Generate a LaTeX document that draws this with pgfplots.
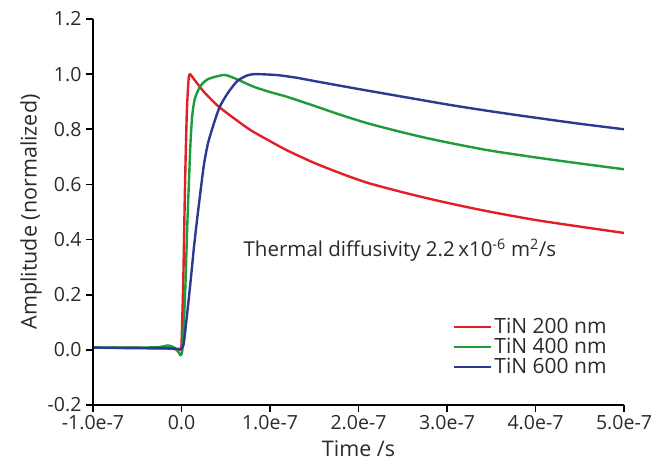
\documentclass[border=0pt]{standalone}
\usepackage{pgfplots}
\pgfplotsset{compat=1.18}
\usepackage{fontspec}
\setmainfont{Open Sans}
\definecolor{cred}{HTML}{E41E26}
\definecolor{cgreen}{HTML}{1E9B3A}
\definecolor{cblue}{HTML}{2B3990}
\definecolor{txt}{HTML}{2A2A2A}
\begin{document}
\begin{tikzpicture}
\begin{axis}[
  scale only axis, width=531pt, height=386pt,
  xmin=-1, xmax=5, ymin=-0.2, ymax=1.2,
  axis line style={draw=none},
  xtick pos=bottom, ytick pos=left,
  xtick={-1,0,1,2,3,4,5},
  xticklabels={-1.0e-7,0.0,1.0e-7,2.0e-7,3.0e-7,4.0e-7,5.0e-7},
  ytick={-0.2,0,0.2,0.4,0.6,0.8,1.0,1.2},
  yticklabel style={/pgf/number format/fixed, /pgf/number format/fixed zerofill, /pgf/number format/precision=1, xshift=-8pt},
  /pgf/number format/assume math mode=true,
  major tick length=0pt,
  ticklabel style={font=\fontsize{19.5}{22}\selectfont, text=txt},
  xticklabel style={yshift=-7pt},
  xlabel={Time /s}, ylabel={Amplitude (normalized)},
  label style={font=\fontsize{21.5}{24}\selectfont, text=txt},
  xlabel style={yshift=-4pt},
  ylabel style={yshift=-1pt},
  legend style={draw=none, fill=none, at={(0.672,0.235)}, anchor=north west,
    font=\fontsize{21}{23}\selectfont, text=txt, row sep=-1pt},
  legend cell align=left,
  legend image code/.code={\draw[#1, line width=2pt] (0pt,0pt) -- (32pt,0pt); \path (0pt,0pt) -- (37pt,0pt);},
  every axis plot/.append style={line width=2.4pt, line join=round, smooth, tension=0.4},
  clip=false,
  extra description/.code={
    \draw[black, line width=1.6pt] (axis description cs:0,1) -- (axis description cs:0,0) -- (axis description cs:1,0);
    \foreach \f in {0,0.16667,0.33333,0.5,0.66667,0.83333,1} {\draw[black, line width=1.6pt] (axis description cs:\f,0) -- ++(0pt,-7pt);}
    \foreach \f in {0,0.142857,0.285714,0.428571,0.571429,0.714286,0.857143,1} {\draw[black, line width=1.6pt] (axis description cs:0,\f) -- ++(-7pt,0pt);}
  },
]
\addplot[cred] coordinates {(-1.0,0.008) (-0.5,0.006) (-0.2,0.005) (-0.1,0.004) (-0.04,0.0) (-0.01,0.0) (0.0,0.02) (0.02,0.25) (0.04,0.6) (0.06,0.86) (0.08,0.98) (0.095,1.0) (0.15,0.978) (0.25,0.937) (0.4,0.888) (0.55,0.85) (0.78,0.797) (1.0,0.757) (1.19,0.724) (1.5,0.678) (1.8,0.640) (2.1,0.606) (2.47,0.574) (2.8,0.548) (3.15,0.523) (3.5,0.50) (4.0,0.471) (4.5,0.447) (5.0,0.424)};
\addlegendentry{TiN 200 nm}
\addplot[cgreen] coordinates {(-1.0,0.008) (-0.5,0.008) (-0.25,0.01) (-0.15,0.016) (-0.08,0.008) (-0.03,-0.01) (-0.01,-0.02) (0.01,0.0) (0.03,0.12) (0.045,0.24) (0.065,0.45) (0.083,0.60) (0.1,0.74) (0.12,0.845) (0.15,0.91) (0.21,0.955) (0.3,0.982) (0.48,0.997) (0.6,0.985) (0.81,0.955) (1.0,0.935) (1.19,0.918) (1.5,0.885) (1.8,0.852) (2.1,0.822) (2.47,0.791) (2.8,0.766) (3.15,0.743) (3.5,0.722) (4.0,0.698) (4.5,0.676) (5.0,0.655)};
\addlegendentry{TiN 400 nm}
\addplot[cblue] coordinates {(-1.0,0.008) (-0.5,0.007) (-0.2,0.006) (-0.05,0.004) (0.0,0.004) (0.026,0.024) (0.06,0.12) (0.1,0.24) (0.14,0.37) (0.18,0.483) (0.25,0.664) (0.3,0.75) (0.365,0.82) (0.43,0.88) (0.52,0.93) (0.63,0.975) (0.74,0.995) (0.82,1.0) (0.95,0.999) (1.1,0.996) (1.3,0.987) (1.5,0.975) (2.0,0.946) (2.5,0.918) (3.04,0.888) (3.5,0.865) (4.0,0.842) (4.5,0.82) (5.0,0.80)};
\addlegendentry{TiN 600 nm}
\node[anchor=west, font=\fontsize{20.5}{22}\selectfont, text=txt, inner sep=0pt] at (axis cs:0.70,0.362) {Thermal diffusivity 2.2\,x10\textsuperscript{-6} m\textsuperscript{2}/s};
\end{axis}
\pgfresetboundingbox
\path (current axis.south west) ++(-93pt,-60pt) coordinate (bl);
\path (current axis.north east) ++(32pt,19pt) coordinate (tr);
\path (bl) rectangle (tr);
\end{tikzpicture}
\end{document}
